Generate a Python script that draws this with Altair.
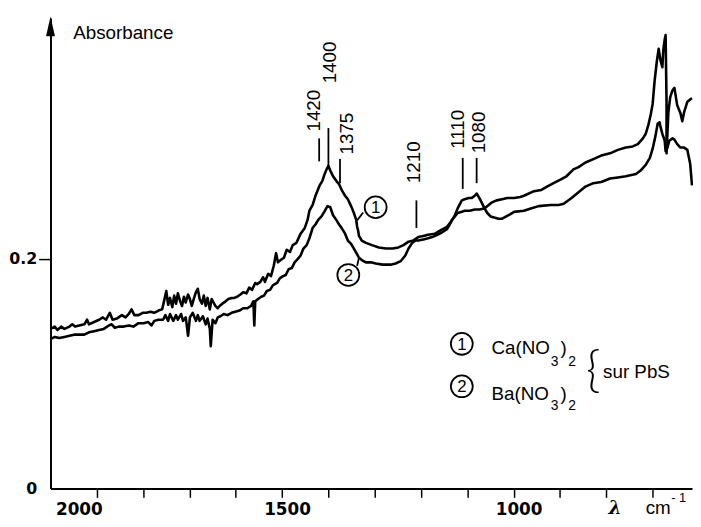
import altair as alt
import pandas as pd

# ---- spectra (wavenumber cm-1, absorbance) ----
wn_ca = [2000, 1991, 1985, 1977, 1970, 1959, 1953, 1947, 1938, 1927, 1921, 1917, 1906, 1895, 1887, 1880,
         1872, 1866, 1857, 1846, 1838, 1831, 1825, 1819, 1810, 1801, 1793, 1784, 1776, 1767, 1759, 1755,
         1750, 1746, 1742, 1737, 1733, 1729, 1725, 1720, 1716, 1712, 1708, 1703, 1699, 1695, 1690, 1686,
         1682, 1678, 1673, 1669, 1665, 1661, 1656, 1652, 1648, 1644, 1639, 1635, 1629, 1622, 1616, 1609,
         1603, 1597, 1590, 1584, 1577, 1571, 1565, 1558, 1554, 1547, 1541, 1537, 1530, 1524, 1518, 1513,
         1509, 1503, 1496, 1490, 1483, 1477, 1469, 1460, 1451, 1445, 1441, 1434, 1428, 1424, 1419, 1413,
         1409, 1404, 1400, 1396, 1390, 1383, 1377, 1370, 1364, 1358, 1351, 1345, 1340, 1338, 1336, 1334,
         1328, 1319, 1306, 1291, 1276, 1261, 1249, 1238, 1227, 1217, 1206, 1195, 1185, 1170, 1157, 1144,
         1136, 1127, 1121, 1112, 1106, 1097, 1091, 1084, 1080, 1074, 1069, 1063, 1057, 1050, 1042, 1033,
         1025, 1016, 1007, 999, 978, 963, 946, 920, 903, 892, 875, 860, 845, 828, 811, 792,
         775, 758, 736, 726, 715, 706, 700, 694, 689, 685, 683, 679, 674, 672, 668, 664,
         657, 653, 647, 640, 632, 625, 619, 615]
ab_ca = [0.139, 0.141, 0.138, 0.141, 0.139, 0.141, 0.143, 0.141, 0.142, 0.143, 0.147, 0.143, 0.145, 0.147, 0.149, 0.147,
         0.153, 0.147, 0.148, 0.151, 0.149, 0.152, 0.156, 0.151, 0.151, 0.153, 0.153, 0.154, 0.153, 0.155, 0.156, 0.163,
         0.172, 0.160, 0.166, 0.158, 0.168, 0.161, 0.170, 0.163, 0.159, 0.167, 0.162, 0.169, 0.165, 0.159, 0.166, 0.171,
         0.174, 0.165, 0.161, 0.168, 0.159, 0.166, 0.156, 0.165, 0.162, 0.159, 0.157, 0.159, 0.161, 0.163, 0.165, 0.166,
         0.166, 0.167, 0.169, 0.171, 0.170, 0.175, 0.173, 0.179, 0.178, 0.180, 0.184, 0.180, 0.187, 0.185, 0.194, 0.205,
         0.197, 0.199, 0.201, 0.208, 0.206, 0.212, 0.214, 0.222, 0.227, 0.234, 0.242, 0.247, 0.255, 0.259, 0.264, 0.268,
         0.273, 0.278, 0.281, 0.277, 0.272, 0.268, 0.265, 0.259, 0.255, 0.252, 0.246, 0.240, 0.234, 0.228, 0.225, 0.220,
         0.216, 0.214, 0.212, 0.210, 0.209, 0.209, 0.210, 0.212, 0.215, 0.216, 0.219, 0.220, 0.221, 0.222, 0.225, 0.228,
         0.232, 0.238, 0.244, 0.251, 0.252, 0.253, 0.253, 0.255, 0.257, 0.253, 0.249, 0.244, 0.240, 0.237, 0.236, 0.235,
         0.235, 0.237, 0.239, 0.241, 0.242, 0.244, 0.246, 0.247, 0.247, 0.248, 0.253, 0.258, 0.263, 0.266, 0.267, 0.270,
         0.271, 0.272, 0.274, 0.277, 0.282, 0.288, 0.296, 0.307, 0.318, 0.319, 0.315, 0.309, 0.303, 0.294, 0.297, 0.303,
         0.305, 0.304, 0.300, 0.297, 0.297, 0.295, 0.283, 0.264]

wn_ba = [2000, 1991, 1981, 1970, 1959, 1949, 1938, 1927, 1917, 1906, 1895, 1885, 1874, 1868, 1861, 1853,
         1842, 1831, 1821, 1810, 1799, 1789, 1782, 1776, 1767, 1757, 1752, 1746, 1742, 1735, 1729, 1725,
         1718, 1714, 1708, 1703, 1699, 1693, 1686, 1682, 1678, 1671, 1665, 1661, 1656, 1654, 1650, 1644,
         1639, 1633, 1626, 1618, 1609, 1601, 1592, 1584, 1575, 1567, 1562, 1560, 1558, 1552, 1545, 1539,
         1533, 1526, 1520, 1511, 1505, 1498, 1492, 1486, 1479, 1473, 1466, 1460, 1454, 1447, 1441, 1434,
         1428, 1422, 1415, 1409, 1402, 1396, 1390, 1383, 1377, 1370, 1364, 1358, 1351, 1345, 1338, 1334,
         1328, 1319, 1308, 1298, 1283, 1266, 1255, 1244, 1234, 1227, 1219, 1212, 1206, 1195, 1185, 1176,
         1165, 1155, 1144, 1138, 1133, 1127, 1121, 1112, 1106, 1095, 1084, 1074, 1063, 1054, 1048, 1037,
         1025, 1014, 999, 986, 978, 956, 941, 928, 914, 899, 886, 871, 860, 845, 828, 811,
         792, 775, 758, 743, 732, 721, 715, 709, 704, 700, 696, 691, 687, 683, 679, 677,
         674, 672, 670, 670, 666, 662, 657, 653, 647, 640, 636, 632, 625, 619, 615]
ab_ba = [0.130, 0.132, 0.131, 0.132, 0.133, 0.134, 0.134, 0.134, 0.136, 0.137, 0.138, 0.139, 0.142, 0.143, 0.140, 0.141,
         0.141, 0.142, 0.141, 0.144, 0.144, 0.145, 0.142, 0.146, 0.147, 0.147, 0.151, 0.146, 0.152, 0.146, 0.151, 0.147,
         0.152, 0.146, 0.149, 0.133, 0.149, 0.153, 0.146, 0.151, 0.146, 0.150, 0.143, 0.148, 0.139, 0.124, 0.147, 0.144,
         0.149, 0.150, 0.152, 0.151, 0.153, 0.154, 0.155, 0.157, 0.157, 0.159, 0.163, 0.142, 0.163, 0.165, 0.167, 0.168,
         0.172, 0.173, 0.177, 0.179, 0.183, 0.185, 0.186, 0.191, 0.192, 0.197, 0.200, 0.203, 0.209, 0.212, 0.218, 0.227,
         0.230, 0.234, 0.237, 0.241, 0.246, 0.245, 0.238, 0.234, 0.230, 0.226, 0.222, 0.216, 0.213, 0.209, 0.204, 0.201,
         0.199, 0.197, 0.197, 0.196, 0.195, 0.195, 0.196, 0.198, 0.203, 0.209, 0.214, 0.216, 0.216, 0.217, 0.218, 0.219,
         0.221, 0.223, 0.226, 0.230, 0.234, 0.237, 0.240, 0.241, 0.242, 0.242, 0.243, 0.243, 0.244, 0.247, 0.249, 0.251,
         0.252, 0.253, 0.253, 0.254, 0.255, 0.259, 0.260, 0.263, 0.266, 0.269, 0.272, 0.278, 0.280, 0.284, 0.287, 0.290,
         0.292, 0.295, 0.297, 0.298, 0.300, 0.305, 0.309, 0.317, 0.326, 0.335, 0.354, 0.372, 0.383, 0.373, 0.367, 0.382,
         0.391, 0.395, 0.337, 0.292, 0.328, 0.341, 0.347, 0.349, 0.334, 0.327, 0.320, 0.328, 0.337, 0.339, 0.340]

# ---- peak annotations ----
peak_labels = ["1420", "1400", "1375", "1210", "1110", "1080"]
peak_line_x = [1420, 1400, 1375, 1210, 1110, 1080]
peak_line_top = [0.305, 0.314, 0.287, 0.251, 0.288, 0.288]
peak_line_bottom = [0.285, 0.281, 0.266, 0.227, 0.261, 0.266]
peak_text_x = [1432, 1396, 1360, 1215, 1121, 1074]
peak_text_y = [0.311, 0.353, 0.291, 0.266, 0.296, 0.292]

# ---- curve markers (circled numbers) ----
marker_labels = ["1", "2"]
marker_x = [1298, 1357]
marker_y = [0.245, 0.186]
leader_x = [1325, 1338]
leader_x2 = [1338, 1334]
leader_y = [0.2405, 0.194]
leader_y2 = [0.2336, 0.201]

# ---- legend ----
legend_labels = ["1", "2"]
legend_circle_x = [1112, 1112]
legend_y = [0.126, 0.089]
legend_main = ["Ca(NO", "Ba(NO"]
legend_text_x = 1048
legend_main_y = [0.1224, 0.0819]
legend_sub_y = [0.1103, 0.0716]
legend_sub3_x = 920
legend_paren_x = 899
legend_sub2_x = 882
brace_x, brace_y = 828, 0.101
sur_x, sur_y = 807, 0.101

x_ticks = list(range(2000, 699, -100))

FONT = "Liberation Sans"

xs = alt.Scale(domain=[2000, 615], nice=False, zero=False)
ys = alt.Scale(domain=[0, 0.41], nice=False, zero=False)

xaxis = alt.Axis(values=x_ticks, title=None, grid=False,
                 labelExpr="datum.value % 500 === 0 ? format(datum.value, 'd') : ''",
                 labelFont="DejaVu Sans", labelFontWeight="bold", labelFontSize=17,
                 labelColor="black", labelOffset=5, labelPadding=4,
                 tickSize=9, tickWidth=1.5, tickColor="black",
                 tickOpacity={"condition": {"test": "datum.value === 2000", "value": 0}, "value": 1},
                 domainColor="black", domainWidth=2, labelOverlap=False)
yaxis = alt.Axis(values=[0, 0.2], title=None, grid=False, format=".1~f",
                 labelFont="DejaVu Sans", labelFontWeight="bold", labelFontSize=16,
                 labelColor="black", labelPadding=2,
                 tickSize=12, tickWidth=1.5, tickColor="black",
                 tickOpacity={"condition": {"test": "datum.value === 0", "value": 0}, "value": 1},
                 domainColor="black", domainWidth=2)

X = alt.X("x:Q", scale=xs, axis=xaxis)
Y = alt.Y("y:Q", scale=ys, axis=yaxis)

rows = []
for i, (w, a) in enumerate(zip(wn_ca, ab_ca)):
    rows.append({"series": "Ca", "i": i, "x": w, "y": a})
for i, (w, a) in enumerate(zip(wn_ba, ab_ba)):
    rows.append({"series": "Ba", "i": i, "x": w, "y": a})
spec = pd.DataFrame(rows)

lines = alt.Chart(spec).mark_line(color="black", strokeWidth=2.6, strokeJoin="round").encode(
    x=X, y=Y, detail="series:N", order="i:Q")

peaks_df = pd.DataFrame({"x": peak_line_x, "y": peak_line_top, "y2": peak_line_bottom})
peak_rules = alt.Chart(peaks_df).mark_rule(color="black", strokeWidth=1.8).encode(x=X, y=Y, y2="y2:Q")

peak_text_df = pd.DataFrame({"x": peak_text_x, "y": peak_text_y, "t": peak_labels})
peak_texts = alt.Chart(peak_text_df).mark_text(angle=270, align="left", baseline="middle",
                                                font=FONT, fontSize=19, color="black").encode(
    x=X, y=Y, text="t:N")

marker_df = pd.DataFrame({"x": marker_x + legend_circle_x, "y": marker_y + legend_y,
                          "t": marker_labels + legend_labels})
marker_circles = alt.Chart(marker_df).mark_point(shape="circle", size=490, filled=True,
                                                  fill="white", stroke="black", strokeWidth=1.8,
                                                  opacity=1).encode(x=X, y=Y)
marker_texts = alt.Chart(marker_df).mark_text(font=FONT, fontSize=17, color="black",
                                               baseline="middle", align="center", dy=1).encode(
    x=X, y=Y, text="t:N")

leader_df = pd.DataFrame({"x": leader_x, "x2": leader_x2, "y": leader_y, "y2": leader_y2})
leaders = alt.Chart(leader_df).mark_rule(color="black", strokeWidth=1.8).encode(
    x=X, x2="x2:Q", y=Y, y2="y2:Q")

main_df = pd.DataFrame({"x": [legend_text_x] * 2 + [legend_paren_x] * 2,
                        "y": legend_main_y * 2, "t": legend_main + [")", ")"]})
legend_main_txt = alt.Chart(main_df).mark_text(font=FONT, fontSize=19, color="black",
                                                align="left", baseline="middle").encode(
    x=X, y=Y, text="t:N")
sub_df = pd.DataFrame({"x": [legend_sub3_x] * 2 + [legend_sub2_x] * 2,
                       "y": legend_sub_y * 2, "t": ["3", "3", "2", "2"]})
legend_sub_txt = alt.Chart(sub_df).mark_text(font=FONT, fontSize=14, color="black",
                                              align="left", baseline="middle").encode(
    x=X, y=Y, text="t:N")

misc_df = pd.DataFrame({"x": [sur_x], "y": [sur_y], "t": ["sur PbS"]})
sur_txt = alt.Chart(misc_df).mark_text(font=FONT, fontSize=19, color="black",
                                       align="left", baseline="middle").encode(x=X, y=Y, text="t:N")
brace_df = pd.DataFrame({"x": [brace_x], "y": [brace_y], "t": ["{"]})
brace_txt = alt.Chart(brace_df).mark_text(font="Lato", fontWeight=300, fontSize=50, color="black",
                                          align="center", baseline="middle", dy=-1).encode(
    x=X, y=Y, text="t:N")

absorb_df = pd.DataFrame({"x": [1951], "y": [0.397], "t": ["Absorbance"]})
absorb_txt = alt.Chart(absorb_df).mark_text(font=FONT, fontSize=19, color="black",
                                            align="left", baseline="middle").encode(x=X, y=Y, text="t:N")

arrow_df = pd.DataFrame({"x": [2000], "y": [0.4026]})
arrow = alt.Chart(arrow_df).mark_point(shape="M0,-1L0.45,1L-0.45,1Z", filled=True, size=400,
                                       color="black", opacity=1).encode(x=X, y=Y)

lam_df = pd.DataFrame({"x": [781], "y": [-0.0224], "t": ["λ"]})
lam_txt = alt.Chart(lam_df).mark_text(font="DejaVu Serif", fontSize=19, fontStyle="italic",
                                      fontWeight="bold", color="black", align="center",
                                      baseline="alphabetic").encode(x=X, y=Y, text="t:N")
cm_df = pd.DataFrame({"x": [715], "y": [-0.0224], "t": ["cm"]})
cm_txt = alt.Chart(cm_df).mark_text(font=FONT, fontSize=19, color="black", align="left",
                                    baseline="alphabetic").encode(x=X, y=Y, text="t:N")
exp_df = pd.DataFrame({"x": [660], "y": [-0.0121], "t": ["-  1"]})
exp_txt = alt.Chart(exp_df).mark_text(font=FONT, fontSize=13, color="black", align="left",
                                      baseline="alphabetic").encode(x=X, y=Y, text="t:N")

chart = alt.layer(
    lines, peak_rules, peak_texts, leaders, marker_circles, marker_texts,
    legend_main_txt, legend_sub_txt, sur_txt, brace_txt, absorb_txt, arrow,
    lam_txt, cm_txt, exp_txt
).properties(
    width=649, height=476,
    autosize=alt.AutoSizeParams(type="none"),
    padding={"left": 43, "top": 7, "right": 1, "bottom": 35},
    background="white"
).configure_view(stroke=None)

chart.save("out.html", embed_options={"renderer": "svg", "actions": False})
